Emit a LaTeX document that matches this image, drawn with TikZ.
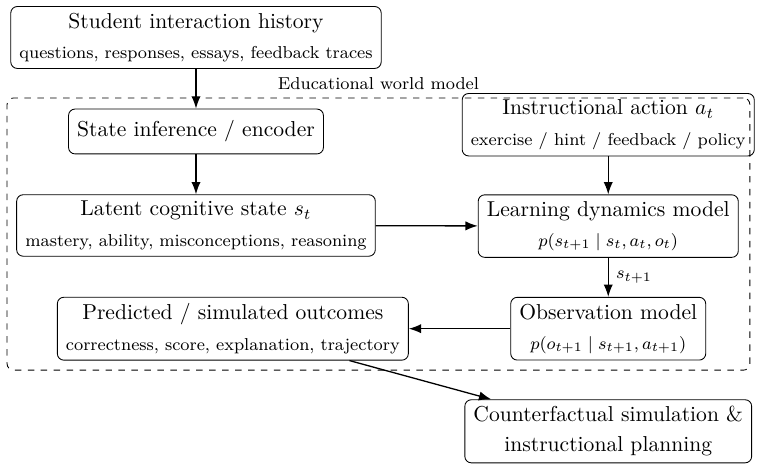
\documentclass[tikz,border=0pt]{standalone}
\usepackage{amsmath, amssymb}
\usepackage{tikz}
\usetikzlibrary{arrows.meta, positioning, calc}

\begin{document}
\begin{tikzpicture}[>=Latex,
    box/.style={draw, rounded corners=3pt, align=center, inner xsep=4pt, inner ysep=3pt, minimum height=0.73cm},
    flow/.style={->, semithick}]
        % Fixed frame of the picture
        \useasboundingbox (0,0) rectangle (12.37,-7.65);

        % World model frame
        \node[draw, dashed, rounded corners=3pt, minimum width=12.09cm, minimum height=4.43cm] (world) at (6.16,-3.81) {};
        \node[above, font=\footnotesize] (worldlabel) at (world.north) {Educational world model};

        % Boxes
        \node[box] (history) at (3.19,-0.61) {Student interaction history\\[2pt] {\footnotesize questions, responses, essays, feedback traces}};
        \node[box] (encoder) at (3.19,-2.14) {State inference / encoder};
        \node[box] (latent) at (3.19,-3.67) {Latent cognitive state $s_t$\\[2pt] {\footnotesize mastery, ability, misconceptions, reasoning}};
        \node[box] (action) at (9.90,-2.03) {Instructional action $a_t$\\[2pt] {\footnotesize exercise / hint / feedback / policy}};
        \node[box] (dynamics) at (9.90,-3.68) {Learning dynamics model\\[2pt] {\footnotesize $p(s_{t+1}\mid s_t, a_t, o_t)$}};
        \node[box] (observation) at (9.90,-5.35) {Observation model\\[2pt] {\footnotesize $p(o_{t+1}\mid s_{t+1}, a_{t+1})$}};
        \node[box] (outcomes) at (3.79,-5.35) {Predicted / simulated outcomes\\[2pt] {\footnotesize correctness, score, explanation, trajectory}};
        \node[box] (planning) at (9.90,-7.02) {Counterfactual simulation \&\\[2pt] instructional planning};

        % Arrows
        \draw[flow] (history) -- (encoder);
        \draw[flow] (encoder) -- (latent);
        \draw[flow] (latent) -- (dynamics);
        \draw[flow] (action) -- (dynamics);
        \draw[flow] (dynamics) -- (observation) node[midway, right, font=\footnotesize] {$s_{t+1}$};
        \draw[flow] (observation) -- (outcomes);
        \draw[flow] (outcomes) -- (planning);
    \end{tikzpicture}
\end{document}
